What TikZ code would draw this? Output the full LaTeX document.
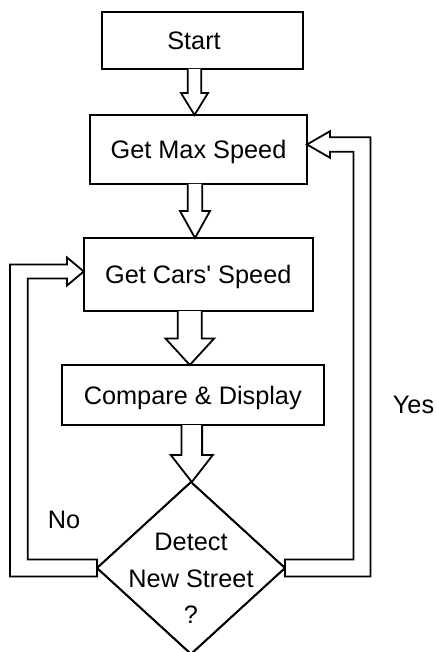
\documentclass[tikz,border=0pt]{standalone}
\usepackage{fontspec}
\setmainfont{Liberation Sans}[Ligatures=TeXOff]
\usetikzlibrary{calc,shapes.geometric}

\tikzset{
  flowline/.style={line width=1.8pt, black, line join=miter},
  box/.style={flowline, draw, rectangle, inner sep=0pt, outer sep=0pt,
    text height=18.1pt, text depth=0pt,
    font=\fontsize{25.3pt}{30pt}\selectfont},
  decision/.style={flowline, draw, diamond, inner sep=0pt, outer sep=0pt,
    minimum width=188pt, minimum height=172pt},
  lbl/.style={inner sep=0pt, outer sep=0pt, text height=18.1pt, text depth=0pt,
    font=\fontsize{25.3pt}{30pt}\selectfont},
  multilbl/.style={inner sep=0pt, outer sep=0pt, align=center,
    font=\fontsize{25.3pt}{36.5pt}\selectfont},
  blk/.style={flowline, draw, fill=white},
}

% hollow block arrow pointing down from the bottom of #2 to the top of #3,
% on the vertical axis through coordinate #1;
% #4 half shaft width, #5 half head width, #6 head length
\newcommand{\blockdown}[6]{%
  \draw[blk] ($(#1 |- #2.south)+(-#4,0)$)
    -- ($(#1 |- #3.north)+(-#4,-#6)$)
    -- ($(#1 |- #3.north)+(-#5,-#6)$)
    -- (#1 |- #3.north)
    -- ($(#1 |- #3.north)+(#5,-#6)$)
    -- ($(#1 |- #3.north)+(#4,-#6)$)
    -- ($(#1 |- #2.south)+(#4,0)$);
}

\begin{document}
\begin{tikzpicture}[x=1pt, y=-1pt]
  \useasboundingbox (0,0) rectangle (436,652);

  % process boxes
  \node[box, minimum width=201pt, minimum height=57pt] (start) at (202.5,40.5) {Start\hspace*{17pt}};
  \node[box, minimum width=217pt, minimum height=69pt] (maxsp) at (198.5,149.5) {Get Max Speed};
  \node[box, minimum width=229pt, minimum height=73pt] (cars)  at (198.3,274.5) {Get Cars' Speed};
  \node[box, minimum width=262pt, minimum height=60pt] (cmp)   at (192.8,395) {Compare \& Display};

  % decision
  \node[decision] (detect) at (191,568) {};
  \node[multilbl] (dtext) at ($(detect.center)+(0,10.4)$) {Detect\\New Street\\?};

  % axes of the downward arrows
  \coordinate (ax1) at (194.5,0);
  \coordinate (ax2) at (195,0);
  \coordinate (ax3) at (189.8,0);
  \coordinate (ax4) at (191.8,0);

  \blockdown{ax1}{start}{maxsp}{6.7}{13.5}{22}
  \blockdown{ax2}{maxsp}{cars}{7.2}{15}{27}
  \blockdown{ax3}{cars}{cmp}{12}{24.3}{26.5}
  \blockdown{ax4}{cmp}{detect}{10.3}{21}{27}

  % "No" branch back to Get Cars' Speed
  \coordinate (noTip) at ($(cars.west)+(0,-3)$);
  \draw[blk] ($(detect.west)+(0,-8.5)$) -- (27.7,559.5) -- (27.7,278.5)
    -- (67,278.5) -- (67,285.5) -- (noTip) -- (67,257.5) -- (67,264.5)
    -- (10,264.5) -- (10,576.5) -- ($(detect.west)+(0,8.5)$) -- cycle;

  % "Yes" branch back to Get Max Speed
  \coordinate (yesTip) at ($(maxsp.east)+(0,-5)$);
  \draw[blk] ($(detect.east)+(0,-8.5)$) -- (353.5,559.5) -- (353.5,151.7)
    -- (330,151.7) -- (330,157.8) -- (yesTip) -- (330,131.2) -- (330,137.3)
    -- (370.5,137.3) -- (370.5,576.5) -- ($(detect.east)+(0,8.5)$) -- cycle;

  % redraw the diamond outline over the branch ends
  \draw[flowline] (detect.north) -- (detect.east) -- (detect.south) -- (detect.west) -- cycle;

  % branch labels
  \node[lbl] (no)  at (64,519) {No};
  \node[lbl] (yes) at (413.5,404) {Yes};
\end{tikzpicture}
\end{document}
